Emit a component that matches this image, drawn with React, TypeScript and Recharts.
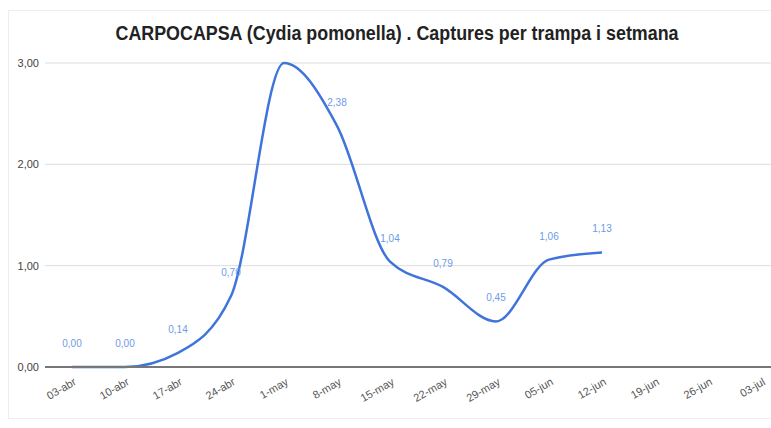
import { LineChart, Line, XAxis, YAxis, CartesianGrid } from "recharts";

// weekly trap captures, Cydia pomonella
const weeks = [
	"03-abr",
	"10-abr",
	"17-abr",
	"24-abr",
	"1-may",
	"8-may",
	"15-may",
	"22-may",
	"29-may",
	"05-jun",
	"12-jun",
	"19-jun",
	"26-jun",
	"03-jul",
];
const captures: (number | null)[] = [
	0, 0, 0.14, 0.7, 3.0, 2.38, 1.04, 0.79, 0.45, 1.06, 1.13, null, null, null,
];
const yTicks = [0, 1, 2, 3];
// the peak label is not drawn in the original
const hiddenLabels = ["1-may"];

const data = weeks.map((week, i) => ({ week, captures: captures[i] }));

const fmt = (v: number) => v.toFixed(2).replace(".", ",");

const FONT = "'Liberation Sans', Arial, sans-serif";

function WeekTick({ x, y, payload }: any) {
	return (
		<g transform={`translate(${x + 5},${y + 17}) rotate(-30)`}>
			<text textAnchor="end" fill="#555" fontSize={11} fontFamily={FONT}>
				{payload.value}
			</text>
		</g>
	);
}

function PointLabel({ x, y, value, index }: any) {
	if (value == null || hiddenLabels.includes(weeks[index])) return null;
	return (
		<text
			x={x}
			y={y - 20}
			textAnchor="middle"
			fill="#6d9be6"
			fontSize={10}
			fontFamily={FONT}
		>
			{fmt(value)}
		</text>
	);
}

export default function App() {
	return (
		<div
			style={{
				position: "fixed",
				left: 0,
				top: 0,
				width: 771,
				height: 428,
				overflow: "hidden",
				background: "#fff",
			}}
		>
			<div
				style={{
					position: "absolute",
					left: 8,
					top: 10,
					width: 800,
					height: 407,
					border: "1px solid #eeeeee",
				}}
			/>
			<svg
				width={771}
				height={60}
				style={{ position: "absolute", left: 0, top: 0 }}
			>
				<text
					x={397}
					y={40}
					textAnchor="middle"
					fontSize={20}
					fontWeight="bold"
					fontFamily={FONT}
					fill="#222"
					textLength={563}
					lengthAdjust="spacingAndGlyphs"
				>
					CARPOCAPSA (Cydia pomonella) . Captures per trampa i setmana
				</text>
			</svg>
			<div style={{ position: "absolute", left: 0, top: 0 }}>
				<LineChart
					width={788}
					height={428}
					data={data}
					margin={{ top: 63, right: 0, left: 0, bottom: 21 }}
				>
					<CartesianGrid vertical={false} stroke="#dddddd" />
					<XAxis
						dataKey="week"
						interval={0}
						height={40}
						padding={{ left: 27, right: 27 }}
						tickLine={false}
						tickSize={0}
						tickMargin={0}
						axisLine={{ stroke: "#777", strokeWidth: 2 }}
						tick={<WeekTick />}
					/>
					<YAxis
						width={45}
						domain={[0, 3]}
						ticks={yTicks}
						axisLine={false}
						tickLine={false}
						tickSize={0}
						tickMargin={6}
						tickFormatter={fmt}
						tick={{ fill: "#444", fontSize: 11, fontFamily: FONT }}
					/>
					<Line
						type="monotone"
						dataKey="captures"
						stroke="#3f74da"
						strokeWidth={2.5}
						dot={false}
						label={<PointLabel />}
						isAnimationActive={false}
					/>
				</LineChart>
			</div>
		</div>
	);
}
